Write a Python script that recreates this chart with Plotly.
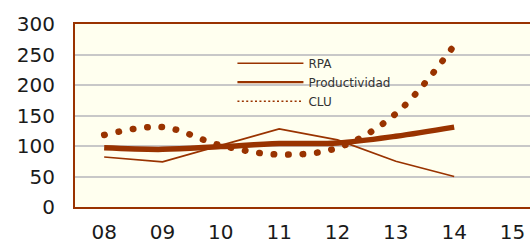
import plotly.graph_objects as go

# ---- data ----
years = ["08", "09", "10", "11", "12", "13", "14"]
tick_labels = ["08", "09", "10", "11", "12", "13", "14", "15"]
rpa = [97, 94.5, 99, 104, 105, 116, 131]
productividad = [82, 74, 101, 128, 110, 75, 50]
clu = [118, 131, 101, 86, 97, 153, 265]
y_ticks = [0, 50, 100, 150, 200, 250, 300]

BROWN = "#993300"
FONT = "DejaVu Sans"

fig = go.Figure()
# data traces
fig.add_trace(go.Scatter(x=years, y=rpa, mode="lines", name="RPA", showlegend=False,
                         line=dict(color=BROWN, width=5.5, shape="spline")))
fig.add_trace(go.Scatter(x=years, y=productividad, mode="lines", name="Productividad", showlegend=False,
                         line=dict(color=BROWN, width=1.7)))
fig.add_trace(go.Scatter(x=years, y=clu, mode="lines", name="CLU", showlegend=False,
                         line=dict(color=BROWN, width=6.5, shape="spline", dash="0.5px,14px")))
# legend entries
fig.add_trace(go.Scatter(x=[None], y=[None], mode="lines", name="RPA",
                         line=dict(color=BROWN, width=1.6)))
fig.add_trace(go.Scatter(x=[None], y=[None], mode="lines", name="Productividad",
                         line=dict(color=BROWN, width=2.2)))
fig.add_trace(go.Scatter(x=[None], y=[None], mode="lines", name="CLU",
                         line=dict(color=BROWN, width=1.4, dash="2px,2.4px")))

fig.update_layout(
    width=530, height=244,
    margin=dict(l=75, r=0, t=24, b=37),
    paper_bgcolor="white",
    plot_bgcolor="#FFFFEF",
    font=dict(family=FONT, color="#1a1a1a"),
    showlegend=True,
    legend=dict(x=0.346, y=0.865, xanchor="left", yanchor="top",
                bgcolor="rgba(0,0,0,0)", font=dict(size=12, color="#333333"),
                itemwidth=66, tracegroupgap=0),
    xaxis=dict(type="category", categoryorder="array", categoryarray=tick_labels,
               tickvals=tick_labels, ticktext=tick_labels,
               range=[-0.5, 7.3], showgrid=False, zeroline=False,
               showline=True, linecolor=BROWN, linewidth=2, mirror=True,
               ticks="", tickfont=dict(size=20, color="#1a1a1a", family=FONT),
               ticklabelstandoff=6, automargin=False, fixedrange=True),
    yaxis=dict(range=[0, 300], tickvals=y_ticks, showgrid=True, gridcolor="#C8C8C8",
               gridwidth=2, zeroline=False, showline=True, linecolor=BROWN, linewidth=2,
               ticks="", tickfont=dict(size=20, color="#1a1a1a", family=FONT),
               ticklabelstandoff=14, automargin=False, fixedrange=True),
)

post_script = """
document.body.style.margin = '0';
document.body.style.overflow = 'hidden';
var gd = document.getElementById('{plot_id}');
function roundCaps(){
  var t = gd.querySelectorAll('.scatterlayer .trace');
  if (t.length > 2) {
    t[2].querySelectorAll('path.js-line').forEach(function(p){ p.style.strokeLinecap = 'round'; });
  }
}
roundCaps();
gd.on('plotly_afterplot', roundCaps);
"""

fig.write_html("out.html", post_script=post_script, config={"displayModeBar": False})
